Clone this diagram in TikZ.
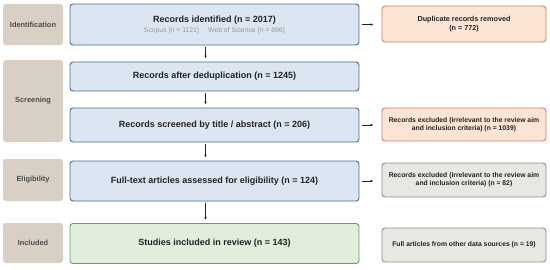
\documentclass[tikz,border=0pt]{standalone}
\usepackage{fontspec}
\setmainfont{Liberation Sans}
\usetikzlibrary{arrows.meta,positioning,calc}
\definecolor{stagefill}{RGB}{216,208,196}
\definecolor{stagetext}{RGB}{75,75,75}
\definecolor{bluefill}{RGB}{219,230,242}
\definecolor{blueline}{RGB}{79,107,140}
\definecolor{orangefill}{RGB}{252,228,212}
\definecolor{orangeline}{RGB}{205,128,104}
\definecolor{greyfill}{RGB}{233,231,225}
\definecolor{greyline}{RGB}{140,140,140}
\definecolor{greenfill}{RGB}{224,238,219}
\definecolor{greenline}{RGB}{104,160,90}
\definecolor{txt}{RGB}{34,34,34}
\definecolor{srcgrey}{RGB}{150,150,150}

\begin{document}
\begin{tikzpicture}[x=1pt,y=-1pt,
  stage/.style={fill=stagefill,rounded corners=3pt,minimum width=60pt,inner sep=1pt,
    text=stagetext,font=\fontsize{7.4}{9}\selectfont\bfseries},
  mainbox/.style={draw=blueline,fill=bluefill,line width=0.9pt,rounded corners=3pt,
    minimum width=289pt,inner sep=1pt,align=center,text=txt,font=\fontsize{9}{11}\selectfont\bfseries},
  sidebox/.style={draw=orangeline,fill=orangefill,line width=0.9pt,rounded corners=3pt,
    minimum width=164pt,inner sep=1pt,align=center,text=txt,font=\fontsize{6.8}{8.2}\selectfont\bfseries},
  flow/.style={-{Latex[length=3pt,width=2.6pt]},line width=0.7pt,txt}]
  \useasboundingbox (0,0) rectangle (550,269);
  % stage labels on the left
  \node[stage,minimum height=41pt] (lid) at (33,24.5) {Identification};
  \node[stage,minimum height=82pt] (lsc) at (33,101) {Screening};
  \node[stage,minimum height=42pt] (lel) at (33,180) {Eligibility};
  \node[stage,minimum height=40pt] (lin) at (33,243) {Included};
  % main flow
  \node[mainbox,minimum height=41pt] (ident) at (214.5,24.5)
    {Records identified (n = 2017)\\[-1pt]
     {\fontsize{6.8}{8}\mdseries\color{srcgrey}Scopus (n = 1121)\hspace{9pt}Web of Science (n = 896)}};
  \node[mainbox,minimum height=29pt] (dedup) at (214.5,76.5) {Records after deduplication (n = 1245)};
  \node[mainbox,minimum height=34pt] (screen) at (214.5,125) {Records screened by title / abstract (n = 206)};
  \node[mainbox,minimum height=40pt] (elig) at (214.5,181) {Full-text articles assessed for eligibility (n = 124)};
  \node[mainbox,draw=greenline,fill=greenfill,minimum height=40pt] (incl) at (214.5,243.5)
    {Studies included in review (n = 143)};
  % side boxes
  \node[sidebox,minimum height=36pt,font=\fontsize{7.2}{8.8}\selectfont\bfseries] (dup) at (464,24)
    {Duplicate records removed\\(n = 772)};
  \node[sidebox,minimum height=33pt] (excl) at (464,124.5)
    {Records excluded (irrelevant to the review aim\\and inclusion criteria) (n = 1039)};
  \node[sidebox,draw=greyline,fill=greyfill,minimum height=34pt] (exel) at (464,180)
    {Records excluded (irrelevant to the review aim\\and inclusion criteria) (n = 82)};
  \node[sidebox,draw=greyline,fill=greyfill,minimum height=34pt] (other) at (464,245)
    {Full articles from other data sources (n = 19)};
  \coordinate (ax) at (205.5,0);
  \foreach \a/\b in {ident/dedup, dedup/screen, screen/elig, elig/incl}
    \draw[flow,shorten <=2pt,shorten >=3pt] (\a.south -| ax) -- (\b.north -| ax);
  \foreach \a/\b in {ident/dup, screen/excl, elig/exel}
    \draw[flow,shorten <=3pt,shorten >=8pt] (\a.east) -- (\a.east -| \b.west);
\end{tikzpicture}
\end{document}
